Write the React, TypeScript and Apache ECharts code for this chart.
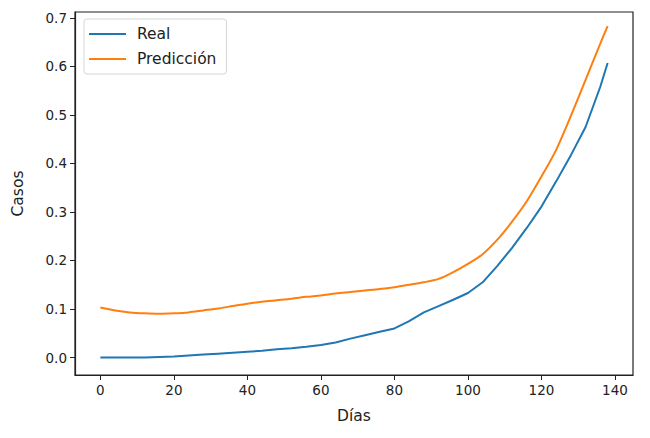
import React, { useEffect, useRef } from "react";
import * as echarts from "echarts";

const days = [0, 4, 8, 12, 16, 20, 24, 28, 32, 36, 40, 44, 48, 52, 56, 60, 64, 68, 72, 76, 80, 84, 88, 92, 96, 100, 104, 108, 112, 116, 120, 124, 128, 132, 136, 138];
const realValues = [0.0, 0.0, 0.0, 0.0, 0.001, 0.002, 0.004, 0.006, 0.008, 0.01, 0.012, 0.014, 0.017, 0.019, 0.022, 0.026, 0.031, 0.039, 0.046, 0.053, 0.06, 0.075, 0.093, 0.106, 0.119, 0.133, 0.155, 0.189, 0.226, 0.267, 0.311, 0.363, 0.417, 0.475, 0.558, 0.607];
const predValues = [0.103, 0.097, 0.093, 0.091, 0.09, 0.091, 0.093, 0.097, 0.101, 0.106, 0.111, 0.115, 0.118, 0.121, 0.125, 0.128, 0.132, 0.135, 0.138, 0.141, 0.145, 0.15, 0.155, 0.162, 0.176, 0.193, 0.213, 0.243, 0.28, 0.322, 0.373, 0.428, 0.498, 0.572, 0.647, 0.683];
const xTicks = [0, 20, 40, 60, 80, 100, 120, 140];
const yTicks = [0, 0.1, 0.2, 0.3, 0.4, 0.5, 0.6, 0.7];

export default function App() {
  const ref = useRef<HTMLDivElement>(null);
  useEffect(() => {
    document.body.style.margin = "0";
    const chart = echarts.init(ref.current!, null, { renderer: "svg" });
    const font = "DejaVu Sans";
    chart.setOption({
      animation: false,
      backgroundColor: "#ffffff",
      grid: {
        left: 75,
        top: 12,
        right: 17,
        bottom: 63,
        show: true,
        borderColor: "#222",
        borderWidth: 1.2,
        backgroundColor: "transparent",
      },
      legend: {
        show: true,
        orient: "vertical",
        left: 84,
        top: 19,
        padding: [7, 10, 7, 5],
        itemGap: 9,
        itemWidth: 37,
        itemHeight: 2,
        borderColor: "#d6d6d6",
        borderWidth: 1,
        borderRadius: 3,
        backgroundColor: "rgba(255,255,255,0.8)",
        textStyle: { fontFamily: font, fontSize: 15.5, color: "#222", padding: [0, 0, 0, 6] },
        data: [
          { name: "Real", icon: "rect" },
          { name: "Predicción", icon: "rect" },
        ],
      },
      xAxis: {
        type: "value",
        min: -6.9,
        max: 144.9,
        name: "Días",
        nameLocation: "middle",
        nameGap: 33,
        nameTextStyle: { fontFamily: font, fontSize: 15.5, color: "#222" },
        splitLine: { show: false },
        axisLine: { show: true, onZero: false, lineStyle: { color: "#222", width: 1.2 } },
        axisTick: { show: true, length: 5, customValues: xTicks, lineStyle: { color: "#222" } },
        axisLabel: {
          customValues: xTicks,
          fontFamily: font,
          fontSize: 13.5,
          color: "#222",
          margin: 8,
          formatter: (v: number) => String(v),
        },
      },
      yAxis: {
        type: "value",
        min: -0.036,
        max: 0.712,
        name: "Casos",
        nameLocation: "middle",
        nameGap: 49,
        nameTextStyle: { fontFamily: font, fontSize: 15.5, color: "#222" },
        splitLine: { show: false },
        axisLine: { show: true, onZero: false, lineStyle: { color: "#222", width: 1.2 } },
        axisTick: { show: true, length: 5, customValues: yTicks, lineStyle: { color: "#222" } },
        axisLabel: {
          customValues: yTicks,
          fontFamily: font,
          fontSize: 13.5,
          color: "#222",
          margin: 8,
          formatter: (v: number) => v.toFixed(1),
        },
      },
      series: [
        {
          name: "Real",
          type: "line",
          showSymbol: false,
          symbol: "none",
          color: "#1f77b4",
          lineStyle: { width: 2, color: "#1f77b4" },
          data: days.map((d, i) => [d, realValues[i]]),
        },
        {
          name: "Predicción",
          type: "line",
          showSymbol: false,
          symbol: "none",
          smooth: 0.3,
          color: "#ff7f0e",
          lineStyle: { width: 2, color: "#ff7f0e" },
          data: days.map((d, i) => [d, predValues[i]]),
        },
      ],
    });
    return () => chart.dispose();
  }, []);
  return <div ref={ref} style={{ width: 650, height: 438 }} />;
}
